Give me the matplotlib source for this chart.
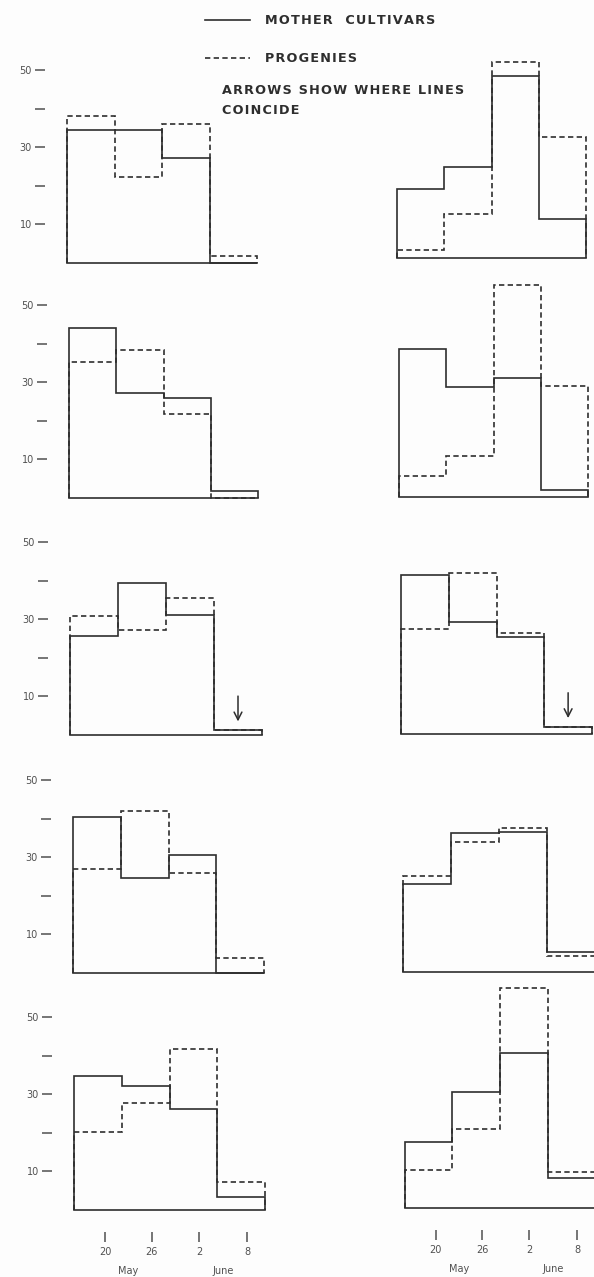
import matplotlib.pyplot as plt
from matplotlib.lines import Line2D

W, H = 594, 1277
DPI = 100
PX = 72 / DPI  # points per pixel

# -----------------------------
# data, panels in reading order
# -----------------------------
edges = [0, 1, 2, 3, 4]

mother = [
    [34.5, 34.5, 27.1, 0.0],
    [17.8, 23.6, 47.1, 10.2],
    [44.0, 27.3, 26.0, 1.9],
    [38.4, 28.6, 30.9, 1.7],
    [25.6, 39.4, 31.1, 1.3],
    [41.2, 29.1, 25.1, 1.9],
    [40.4, 24.6, 30.6, 0.0],
    [22.7, 36.0, 36.2, 5.2],
    [34.7, 32.1, 26.1, 3.4],
    [17.0, 30.1, 40.2, 7.9],
]

progeny = [
    [38.2, 22.3, 36.0, 1.8],
    [2.1, 11.4, 50.8, 31.3],
    [35.2, 38.3, 21.8, 0.0],
    [5.4, 10.6, 54.8, 28.8],
    [30.9, 27.1, 35.6, 1.3],
    [27.1, 41.7, 26.2, 1.9],
    [27.0, 41.9, 25.9, 3.9],
    [24.9, 33.7, 37.4, 4.1],
    [20.2, 27.8, 41.6, 7.2],
    [9.9, 20.5, 57.1, 9.3],
]

# bin (index) where the two lines coincide, None if nowhere
coincide_bin = [None, None, None, None, 3, 3, None, None, None, None]

y_ticks = [10, 20, 30, 40, 50]
y_labels = ["10", "", "30", "", "50"]
x_ticks = [0.65, 1.63, 2.62, 3.63]
x_labels = ["20", "26", "2", "8"]
months = ["May", "June"]

legend_labels = ["MOTHER  CULTIVARS", "PROGENIES"]
note_lines = ["ARROWS SHOW WHERE LINES", "COINCIDE"]

# panel boxes in pixels: left edge, right edge, baseline
boxes = [
    (67, 257, 263), (397, 586, 258),
    (69, 258, 498), (399, 588, 497),
    (70, 262, 735), (401, 592, 734),
    (73, 264, 973), (403, 595, 972),
    (74, 265, 1210), (405, 595, 1208),
]

PPU = 3.86      # pixels per unit on the y axis
YMAX = 60
INK = "#2e2e2e"
GREY = "#505050"
LW = 1.2


def spaced(s):
    # lettering-guide look: a hair space between letters
    return "\u200a".join(s)


fig = plt.figure(figsize=(W / DPI, H / DPI), dpi=DPI)
fig.patch.set_facecolor("#fdfdfd")

for i, (x0, x1, base) in enumerate(boxes):
    h = YMAX * PPU
    ax = fig.add_axes([x0 / W, 1 - base / H, (x1 - x0) / W, h / H])
    ax.set_xlim(edges[0], edges[-1])
    ax.set_ylim(0, YMAX)
    ax.patch.set_alpha(0)
    for s in ax.spines.values():
        s.set_visible(False)

    ax.stairs(progeny[i], edges, baseline=0, color=INK, lw=LW,
              linestyle=(0, (3.2, 2.0)), clip_on=False)
    ax.stairs(mother[i], edges, baseline=0, color=INK, lw=LW, clip_on=False)
    ax.plot([edges[0], edges[-1]], [0, 0], color=INK, lw=LW, clip_on=False)

    b = coincide_bin[i]
    if b is not None:
        xc = (edges[b] + edges[b + 1]) / 2
        v = mother[i][b]
        ax.annotate("", xy=(xc, v + 1.5), xytext=(xc, v + 9.5),
                    arrowprops=dict(arrowstyle="->,head_length=0.55,head_width=0.28",
                                    color=INK, lw=1.1), annotation_clip=False)

    col = i % 2
    row = i // 2

    if col == 0:
        ax.spines["left"].set_position(("outward", 22 * PX))
        ax.set_yticks(y_ticks, y_labels)
        ax.tick_params(axis="y", length=10 * PX, width=1.1, color=GREY,
                       labelsize=7, labelcolor=GREY, pad=3 * PX)
    else:
        ax.set_yticks([])

    if row == 4:
        ax.spines["bottom"].set_position(("outward", 22 * PX))
        ax.set_xticks(x_ticks, x_labels)
        ax.tick_params(axis="x", length=10 * PX, width=1.1, color=GREY,
                       labelsize=7, labelcolor=GREY, pad=5 * PX)
        for m, name in enumerate(months):
            xm = (x_ticks[2 * m] + x_ticks[2 * m + 1]) / 2
            ax.annotate(name, xy=(xm, 0), xycoords=("data", "axes fraction"),
                        xytext=(0, -61 * PX), textcoords="offset points",
                        ha="center", va="center", fontsize=7, color=GREY)
    else:
        ax.set_xticks([])


# legend drawn at the top of the page
def fx(px):
    return px / W


def fy(py):
    return 1 - py / H


styles = ["-", (0, (3.2, 2.0))]
for k, (label, ls) in enumerate(zip(legend_labels, styles)):
    yy = [20, 58][k]
    fig.add_artist(Line2D([fx(205), fx(250)], [fy(yy), fy(yy)], color=INK,
                          lw=LW, linestyle=ls, transform=fig.transFigure))
    fig.text(fx(265), fy(yy), spaced(label), ha="left", va="center",
             fontsize=9.2, fontweight="bold", color=INK, family="DejaVu Sans")

for k, line in enumerate(note_lines):
    fig.text(fx(222), fy(90 + 20 * k), spaced(line), ha="left", va="center",
             fontsize=9.2, fontweight="bold", color=INK, family="DejaVu Sans")

fig.savefig("out.png", dpi=DPI, facecolor=fig.get_facecolor())
